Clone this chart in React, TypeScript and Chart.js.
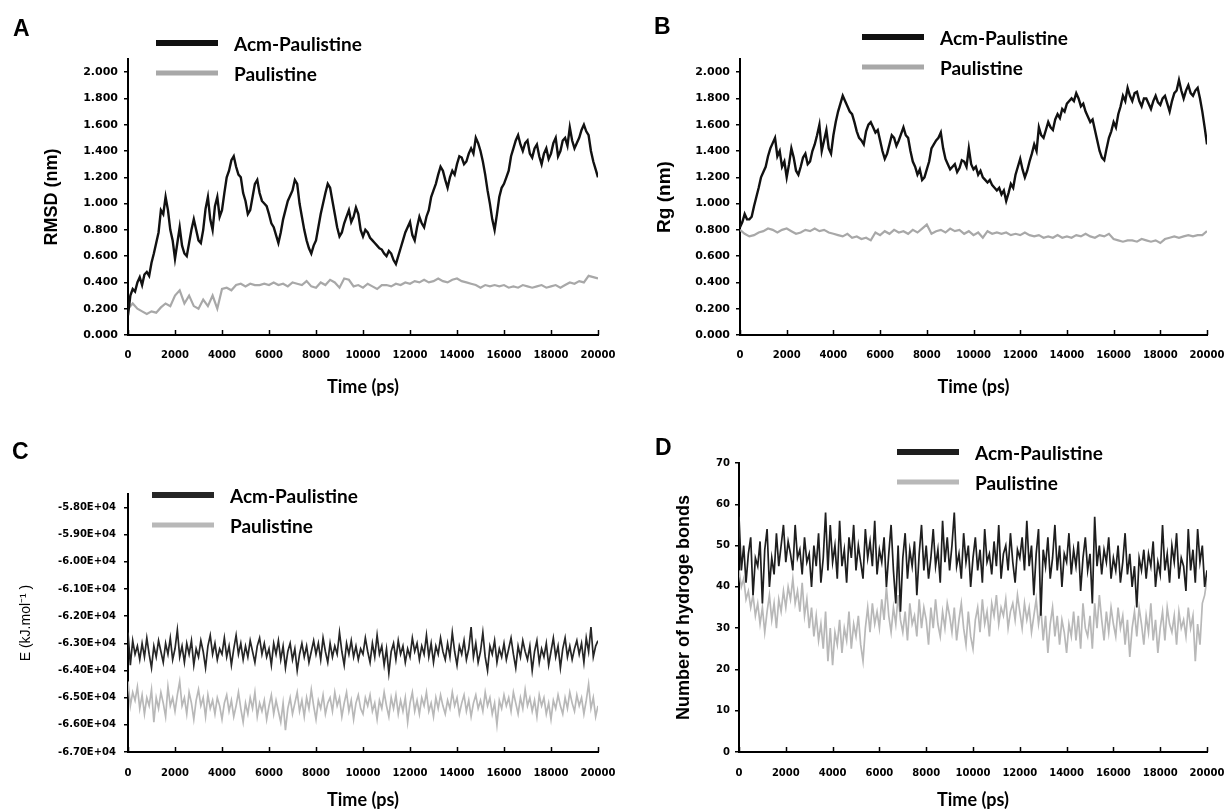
import React, { useEffect, useRef } from "react";
import { Chart, registerables } from "chart.js";

Chart.register(...registerables);

// ---------- data ----------
const SERIES_LABELS = ["Acm-Paulistine", "Paulistine"];
const STEP_100 = 100; // ps between samples
const STEP_200 = 200; // ps between samples
const X_TICKS = [0, 2000, 4000, 6000, 8000, 10000, 12000, 14000, 16000, 18000, 20000];

const NM_TICKS = [0, 0.2, 0.4, 0.6, 0.8, 1.0, 1.2, 1.4, 1.6, 1.8, 2.0];
const NM_TICK_LABELS = ["0.000", "0.200", "0.400", "0.600", "0.800", "1.000", "1.200", "1.400", "1.600", "1.800", "2.000"];
const ENERGY_TICKS = [-67000, -66000, -65000, -64000, -63000, -62000, -61000, -60000, -59000, -58000];
const ENERGY_TICK_LABELS = ["-6.70E+04", "-6.60E+04", "-6.50E+04", "-6.40E+04", "-6.30E+04", "-6.20E+04", "-6.10E+04", "-6.00E+04", "-5.90E+04", "-5.80E+04"];
const HBOND_TICKS = [0, 10, 20, 30, 40, 50, 60, 70];
const HBOND_TICK_LABELS = ["0", "10", "20", "30", "40", "50", "60", "70"];

// RMSD (nm), Acm-Paulistine, every 100 ps
const rmsdAcm = [
  0.15, 0.30, 0.35, 0.33, 0.40, 0.44, 0.38, 0.46, 0.48, 0.45,
  0.55, 0.62, 0.70, 0.78, 0.95, 0.92, 1.05, 0.95, 0.80, 0.72,
  0.58, 0.70, 0.82, 0.68, 0.62, 0.60, 0.70, 0.80, 0.88, 0.80,
  0.72, 0.70, 0.80, 0.96, 1.05, 0.88, 0.80, 0.98, 1.05, 0.90,
  0.95, 1.08, 1.20, 1.25, 1.33, 1.36, 1.28, 1.22, 1.20, 1.08,
  1.02, 0.92, 0.95, 1.05, 1.15, 1.18, 1.08, 1.02, 1.00, 0.98,
  0.92, 0.85, 0.82, 0.76, 0.70, 0.78, 0.88, 0.95, 1.02, 1.06,
  1.10, 1.18, 1.15, 1.00, 0.90, 0.80, 0.72, 0.66, 0.62, 0.68,
  0.72, 0.82, 0.92, 1.00, 1.08, 1.15, 1.12, 1.02, 0.92, 0.82,
  0.75, 0.78, 0.85, 0.90, 0.95, 0.86, 0.90, 0.97, 0.92, 0.80,
  0.75, 0.80, 0.78, 0.74, 0.72, 0.70, 0.68, 0.66, 0.65, 0.62,
  0.60, 0.64, 0.62, 0.57, 0.54, 0.60, 0.66, 0.72, 0.78, 0.82,
  0.86, 0.76, 0.72, 0.82, 0.90, 0.85, 0.82, 0.90, 0.95, 1.05,
  1.10, 1.15, 1.22, 1.28, 1.25, 1.18, 1.12, 1.20, 1.25, 1.22,
  1.30, 1.36, 1.35, 1.30, 1.32, 1.38, 1.42, 1.38, 1.50, 1.46,
  1.40, 1.32, 1.22, 1.10, 1.00, 0.88, 0.80, 0.92, 1.05, 1.12,
  1.15, 1.20, 1.25, 1.36, 1.42, 1.48, 1.52, 1.45, 1.40, 1.46,
  1.48, 1.38, 1.35, 1.42, 1.45, 1.36, 1.30, 1.38, 1.42, 1.34,
  1.38, 1.46, 1.50, 1.36, 1.40, 1.48, 1.50, 1.44, 1.58, 1.48,
  1.42, 1.46, 1.50, 1.56, 1.60, 1.55, 1.52, 1.40, 1.32, 1.26,
  1.20,
];
// RMSD (nm), Paulistine, every 200 ps
const rmsdPaul = [
  0.20, 0.24, 0.20, 0.18, 0.16, 0.18, 0.17, 0.21, 0.24, 0.22,
  0.30, 0.34, 0.24, 0.30, 0.22, 0.20, 0.27, 0.22, 0.30, 0.20,
  0.35, 0.36, 0.34, 0.38, 0.39, 0.37, 0.39, 0.38, 0.38, 0.39,
  0.38, 0.40, 0.38, 0.39, 0.37, 0.40, 0.39, 0.38, 0.41, 0.37,
  0.36, 0.40, 0.38, 0.42, 0.40, 0.36, 0.43, 0.42, 0.37, 0.38,
  0.36, 0.39, 0.37, 0.35, 0.38, 0.38, 0.37, 0.39, 0.38, 0.40,
  0.39, 0.41, 0.40, 0.42, 0.40, 0.41, 0.43, 0.41, 0.40, 0.42,
  0.43, 0.41, 0.40, 0.39, 0.38, 0.36, 0.38, 0.37, 0.38, 0.37,
  0.38, 0.36, 0.37, 0.36, 0.38, 0.37, 0.36, 0.37, 0.38, 0.36,
  0.37, 0.38, 0.36, 0.38, 0.40, 0.39, 0.41, 0.40, 0.45, 0.44,
  0.43,
];
// Rg (nm), Acm-Paulistine, every 100 ps
const rgAcm = [
  0.82, 0.86, 0.92, 0.88, 0.88, 0.90, 0.98, 1.05, 1.12, 1.20,
  1.24, 1.28, 1.36, 1.42, 1.46, 1.50, 1.36, 1.40, 1.28, 1.32,
  1.20, 1.30, 1.42, 1.35, 1.25, 1.22, 1.28, 1.35, 1.38, 1.30,
  1.32, 1.40, 1.45, 1.52, 1.60, 1.40, 1.48, 1.56, 1.42, 1.38,
  1.52, 1.62, 1.70, 1.76, 1.82, 1.78, 1.74, 1.70, 1.68, 1.62,
  1.55, 1.50, 1.48, 1.45, 1.55, 1.60, 1.62, 1.58, 1.54, 1.56,
  1.48, 1.40, 1.34, 1.38, 1.45, 1.52, 1.50, 1.44, 1.48, 1.53,
  1.58, 1.52, 1.50, 1.40, 1.32, 1.28, 1.22, 1.26, 1.18, 1.20,
  1.26, 1.32, 1.42, 1.45, 1.48, 1.50, 1.54, 1.42, 1.34, 1.30,
  1.26, 1.28, 1.30, 1.24, 1.27, 1.33, 1.32, 1.28, 1.42, 1.30,
  1.26, 1.28, 1.22, 1.25, 1.20, 1.18, 1.16, 1.18, 1.14, 1.12,
  1.10, 1.12, 1.07, 1.10, 1.02, 1.08, 1.15, 1.12, 1.22, 1.28,
  1.34, 1.26, 1.20, 1.25, 1.32, 1.38, 1.45, 1.40, 1.58, 1.52,
  1.50, 1.56, 1.62, 1.58, 1.56, 1.64, 1.68, 1.65, 1.72, 1.70,
  1.76, 1.78, 1.80, 1.78, 1.84, 1.80, 1.74, 1.76, 1.70, 1.66,
  1.62, 1.64, 1.56, 1.48, 1.40, 1.35, 1.33, 1.42, 1.50, 1.55,
  1.62, 1.58, 1.68, 1.74, 1.82, 1.78, 1.88, 1.82, 1.78, 1.84,
  1.85, 1.78, 1.74, 1.80, 1.80, 1.76, 1.72, 1.78, 1.82, 1.77,
  1.75, 1.80, 1.82, 1.76, 1.70, 1.78, 1.84, 1.86, 1.94, 1.86,
  1.80, 1.86, 1.90, 1.84, 1.82, 1.86, 1.88, 1.80, 1.70, 1.58,
  1.45,
];
// Rg (nm), Paulistine, every 200 ps
const rgPaul = [
  0.80, 0.77, 0.75, 0.76, 0.78, 0.79, 0.81, 0.80, 0.78, 0.80,
  0.81, 0.79, 0.77, 0.78, 0.80, 0.79, 0.81, 0.79, 0.80, 0.78,
  0.77, 0.76, 0.75, 0.77, 0.74, 0.75, 0.73, 0.74, 0.72, 0.78,
  0.76, 0.79, 0.77, 0.80, 0.78, 0.79, 0.77, 0.80, 0.78, 0.81,
  0.84, 0.77, 0.79, 0.80, 0.78, 0.81, 0.79, 0.80, 0.77, 0.79,
  0.76, 0.78, 0.74, 0.79, 0.77, 0.78, 0.77, 0.78, 0.76, 0.77,
  0.76, 0.78, 0.76, 0.75, 0.76, 0.74, 0.75, 0.74, 0.76, 0.74,
  0.75, 0.74, 0.76, 0.75, 0.77, 0.75, 0.74, 0.76, 0.75, 0.77,
  0.73, 0.72, 0.71, 0.72, 0.72, 0.71, 0.73, 0.72, 0.71, 0.72,
  0.70, 0.73, 0.74, 0.75, 0.74, 0.75, 0.76, 0.75, 0.76, 0.76,
  0.79,
];
// Energy (kJ/mol), every 100 ps
const energyAcm = [
  -62600, -63800, -62900, -63400, -63100, -63600, -63000, -63500, -62800, -63400,
  -63900, -63100, -63500, -62900, -63300, -63700, -63000, -63400, -62800, -63600,
  -63200, -62500, -63500, -63100, -63700, -63000, -63400, -62900, -63800, -63200,
  -63500, -62900, -63300, -63900, -63100, -62700, -63400, -63000, -63600, -63200,
  -63400, -62800, -63500, -63100, -63800, -63200, -62700, -63400, -63000, -63600,
  -63100, -63500, -62900, -63300, -63700, -63100, -62800, -63400, -63000, -63500,
  -63200, -63800, -63000, -63400, -62900, -63600, -63100, -63900, -63300, -63000,
  -63600, -63200, -64000, -63400, -63000, -63500, -63100, -63700, -63300, -62900,
  -63400, -63000, -63600, -62800, -63300, -63700, -63000, -63500, -63100, -63400,
  -62600, -63300, -63800, -63000, -63400, -62900, -63500, -63100, -63600, -63200,
  -63400, -62800, -63300, -63700, -63000, -63500, -62700, -63400, -63100, -63800,
  -63200, -64100, -63300, -63000, -63600, -62900, -63400, -63100, -63700, -63200,
  -63500, -62800, -63300, -63000, -63600, -63100, -63400, -62700, -63500, -63000,
  -63700, -63100, -63400, -62800, -63300, -63600, -63000, -63500, -62600, -63300,
  -63800, -63100, -63400, -62900, -63600, -63200, -62400, -63500, -63000, -63700,
  -63300, -62600, -63500, -64000, -63100, -63400, -62900, -63700, -63200, -63500,
  -63000, -63600, -63200, -62800, -63400, -63900, -63100, -63500, -62900, -63300,
  -63600, -63100, -64000, -63300, -62900, -63700, -63200, -63500, -63000, -63800,
  -63300, -62800, -63500, -63100, -63900, -63200, -62800, -63500, -63100, -63600,
  -63200, -62900, -63400, -63000, -63700, -62800, -63300, -62400, -63500, -63100,
  -62900,
];
const energyPaul = [
  -64400, -65300, -64800, -65100, -64600, -65400, -64900, -65600, -65000, -65300,
  -64700, -65900, -65000, -65400, -64800, -65200, -65700, -64600, -65300, -65000,
  -65500, -64900, -64400, -65300, -65000, -65600, -64800, -65200, -65800, -65100,
  -64700, -65300, -65000, -65700, -64900, -65400, -65100, -65600, -65000, -65300,
  -65800, -65200, -64900, -65500, -65100, -65700, -65300, -64800, -65400, -65900,
  -65200, -65600, -65000, -65400, -64800, -65700, -65200, -65500, -65100, -65800,
  -65300, -64900, -65600, -65100, -65500, -65900, -65200, -66200, -65400, -65000,
  -65600, -65200, -64800, -65500, -65100, -65700, -65000, -65400, -64700, -65300,
  -65800, -65100, -65400, -64900, -65600, -65200, -65000, -65500, -64800, -65300,
  -65000, -65700, -65200, -64800, -65500, -65100, -65800, -65200, -64900, -65400,
  -65600, -65000, -65300, -64900, -65500, -65200, -65800, -65100, -65400, -64800,
  -65300, -65700, -65000, -65400, -64900, -65600, -65100, -65500, -65000, -65900,
  -65200, -64800, -65500, -65100, -65600, -65000, -65300, -64800, -65500, -65200,
  -65700, -65000, -65400, -64900, -65300, -65600, -65100, -65400, -64800, -65300,
  -65000, -65600, -65200, -64900, -65500, -65100, -65700, -65200, -64900, -65400,
  -65100, -65500, -64800, -65300, -65000, -65600, -65200, -66000, -65100, -65400,
  -64900, -65300, -65000, -65500, -64800, -65200, -65600, -65000, -65400, -64700,
  -65300, -65000, -65500, -65100, -65700, -64900, -65300, -65000, -65600, -65200,
  -65800, -65100, -65400, -64900, -65300, -65600, -65000, -65400, -64800, -65200,
  -65500, -64900, -65300, -65000, -65600, -65100, -64500, -65400, -65000, -65700,
  -65300,
];
// Number of hydrogen bonds, every 100 ps
const hbondAcm = [
  57, 44, 50, 41, 48, 52, 38, 47, 45, 51,
  36, 49, 54, 40, 47, 43, 53, 45, 50, 55,
  46, 51, 48, 44, 55, 47, 49, 43, 52, 46,
  48, 40, 50, 45, 53, 41, 47, 58, 44, 55,
  46, 50, 42, 56, 45, 49, 41, 52, 47, 55,
  44, 50, 46, 42, 54, 47, 51, 45, 56, 43,
  49, 46, 52, 40, 48, 55, 44, 36, 50, 34,
  47, 53, 42, 49, 45, 51, 38, 48, 55, 44,
  50, 42, 47, 54, 45, 49, 41, 56, 46, 52,
  44, 50, 58, 45, 48, 42, 53, 46, 50, 40,
  47, 52, 44, 49, 41, 54, 46, 48, 43, 51,
  45, 55, 42, 48, 50, 44, 53, 46, 41, 49,
  47, 52, 44, 56, 45, 50, 38, 48, 54, 33,
  49, 45, 52, 42, 47, 55, 44, 50, 40, 48,
  46, 53, 43, 49, 45, 51, 39, 47, 52, 44,
  48, 36, 57, 45, 50, 43, 49, 46, 52, 42,
  47, 44, 50, 41, 46, 53, 43, 48, 40, 45,
  35, 47, 44, 49, 42, 48, 45, 51, 40, 46,
  43, 55, 44, 48, 41, 50, 46, 53, 42, 47,
  45, 39, 54, 44, 49, 41, 54, 46, 50, 40,
  44,
];
const hbondPaul = [
  44, 40, 42, 37, 39, 35, 38, 33, 36, 31,
  35, 29, 34, 38, 32, 36, 30, 37, 34, 39,
  35, 40, 37, 42, 36, 39, 34, 41, 33, 37,
  30, 35, 28, 33, 27, 31, 25, 34, 22, 30,
  21, 29, 26, 32, 24, 30, 27, 34, 25, 31,
  28, 33, 26, 22, 30, 35, 29, 36, 31, 34,
  30, 37, 32, 40, 33, 29, 35, 31, 38, 32,
  29, 34, 27, 36, 31, 33, 28, 37, 30, 35,
  32, 26, 35, 30, 37, 31, 28, 34, 30, 36,
  33, 29, 35, 27, 32, 36, 30, 26, 34, 28,
  25, 32, 35, 29, 37, 31, 34, 28, 36, 33,
  38, 31, 35, 33, 37, 30, 34, 36, 32, 38,
  34, 30, 36, 32, 35, 29, 33, 37, 31, 35,
  27, 33, 24, 31, 35, 28, 33, 26, 32, 29,
  24, 31, 28, 34, 27, 33, 25, 36, 30, 28,
  33, 25, 36, 30, 38, 32, 27, 34, 29, 35,
  31, 28, 35, 30, 33, 26, 32, 23, 30, 34,
  28, 35, 31, 26, 33, 29, 36, 27, 32, 24,
  30, 34, 27, 35, 31, 29, 33, 26, 34, 30,
  32, 28, 35, 30, 33, 22, 31, 26, 36, 38,
  42,
];

// ---------- panel layout ----------
type Panel = {
  key: string;
  left: number; top: number; width: number; height: number;
  area: { left: number; right: number; top: number; bottom: number };
  yMin: number; yMax: number; yTicks: number[]; yTickLabels: string[];
  yTickFontSize: number; yTickPad: number;
  yTitle: string; yTitleFont: any; yTitlePad: number;
  xTickPad: number; xTitlePadBottom: number;
  acm: number[]; acmStep: number; paul: number[]; paulStep: number;
  colors: [string, string]; widths: [number, number];
  letter: string; letterX: number; letterY: number;
  legendX: number; legendY: number;
};

const PANELS: Panel[] = [
  {
    key: "A", left: 0, top: 0, width: 630, height: 406,
    area: { left: 128, right: 598, top: 59, bottom: 335 },
    yMin: 0, yMax: 2.1, yTicks: NM_TICKS, yTickLabels: NM_TICK_LABELS,
    yTickFontSize: 11, yTickPad: 6,
    yTitle: "RMSD (nm)", yTitleFont: { family: "Liberation Sans", size: 18, weight: "bold" }, yTitlePad: 41,
    xTickPad: 14, xTitlePadBottom: 8,
    acm: rmsdAcm, acmStep: STEP_100, paul: rmsdPaul, paulStep: STEP_200,
    colors: ["#111111", "#a8a8a8"], widths: [2.4, 2.2],
    letter: "A", letterX: 13, letterY: 30, legendX: 156, legendY: 43,
  },
  {
    key: "B", left: 612, top: 0, width: 613, height: 406,
    area: { left: 128, right: 595, top: 59, bottom: 335 },
    yMin: 0, yMax: 2.1, yTicks: NM_TICKS, yTickLabels: NM_TICK_LABELS,
    yTickFontSize: 11, yTickPad: 6,
    yTitle: "Rg (nm)", yTitleFont: { family: "Liberation Sans", size: 19, weight: "bold" }, yTitlePad: 41,
    xTickPad: 14, xTitlePadBottom: 8,
    acm: rgAcm, acmStep: STEP_100, paul: rgPaul, paulStep: STEP_200,
    colors: ["#111111", "#a8a8a8"], widths: [2.4, 2.2],
    letter: "B", letterX: 42, letterY: 28, legendX: 250, legendY: 37,
  },
  {
    key: "C", left: 0, top: 406, width: 630, height: 406,
    area: { left: 128, right: 598, top: 88, bottom: 346 },
    yMin: -67000, yMax: -57500, yTicks: ENERGY_TICKS, yTickLabels: ENERGY_TICK_LABELS,
    yTickFontSize: 10, yTickPad: 8,
    yTitle: "E (kJ.mol\u207B\u00B9 )", yTitleFont: { family: "Liberation Sans", size: 14, weight: "normal" }, yTitlePad: 18,
    xTickPad: 15, xTitlePadBottom: 1,
    acm: energyAcm, acmStep: STEP_100, paul: energyPaul, paulStep: STEP_100,
    colors: ["#262626", "#b8b8b8"], widths: [1.7, 1.7],
    letter: "C", letterX: 12, letterY: 47, legendX: 152, legendY: 89,
  },
  {
    key: "D", left: 612, top: 406, width: 613, height: 406,
    area: { left: 127, right: 595, top: 57, bottom: 346 },
    yMin: 0, yMax: 70, yTicks: HBOND_TICKS, yTickLabels: HBOND_TICK_LABELS,
    yTickFontSize: 10, yTickPad: 5,
    yTitle: "Number of hydroge bonds", yTitleFont: { family: "Liberation Sans", size: 18, weight: "bold" }, yTitlePad: 61,
    xTickPad: 15, xTitlePadBottom: 1,
    acm: hbondAcm, acmStep: STEP_100, paul: hbondPaul, paulStep: STEP_100,
    colors: ["#1e1e1e", "#b8b8b8"], widths: [1.7, 1.7],
    letter: "D", letterX: 43, letterY: 43, legendX: 285, legendY: 46,
  },
];

// ---------- plugin: panel letter, legend, inward x ticks ----------
const decorPlugin = {
  id: "panelDecor",
  afterDraw(chart: any, _args: any, opts: any) {
    const ctx = chart.ctx as CanvasRenderingContext2D;
    const xs = chart.scales.x;
    const bottom = chart.chartArea.bottom;
    ctx.save();
    ctx.strokeStyle = "#000";
    ctx.lineWidth = 1.5;
    xs.ticks.forEach((t: any) => {
      const px = Math.round(xs.getPixelForValue(t.value)) + 0.5;
      ctx.beginPath();
      ctx.moveTo(px, bottom);
      ctx.lineTo(px, bottom - 5);
      ctx.stroke();
    });
    ctx.fillStyle = "#000";
    ctx.textAlign = "left";
    ctx.textBaseline = "middle";
    ctx.font = 'bold 23px "Liberation Sans", Arial, sans-serif';
    ctx.fillText(opts.letter, opts.letterX, opts.letterY);
    chart.data.datasets.forEach((ds: any, i: number) => {
      const y = opts.legendY + i * 30;
      ctx.strokeStyle = opts.legendColors[i];
      ctx.lineWidth = i === 0 ? 6 : 5;
      ctx.lineCap = "butt";
      ctx.beginPath();
      ctx.moveTo(opts.legendX, y);
      ctx.lineTo(opts.legendX + 62, y);
      ctx.stroke();
      ctx.fillStyle = "#000";
      ctx.font = 'bold 19px Lato, "Open Sans", sans-serif';
      ctx.fillText(ds.label, opts.legendX + 78, y + 2);
    });
    ctx.restore();
  },
};

function ChartPanel({ p }: { p: Panel }) {
  const ref = useRef<HTMLCanvasElement | null>(null);
  useEffect(() => {
    if (!ref.current) return;
    const tickFont = (size: number) => ({ family: "DejaVu Sans", size, weight: "bold" as const });
    const chart = new Chart(ref.current, {
      type: "line",
      data: {
        datasets: [
          {
            label: SERIES_LABELS[0],
            data: p.acm.map((v, i) => ({ x: i * p.acmStep, y: v })),
            borderColor: p.colors[0],
            borderWidth: p.widths[0],
            pointRadius: 0,
            tension: 0,
            fill: false,
          },
          {
            label: SERIES_LABELS[1],
            data: p.paul.map((v, i) => ({ x: i * p.paulStep, y: v })),
            borderColor: p.colors[1],
            borderWidth: p.widths[1],
            pointRadius: 0,
            tension: 0,
            fill: false,
          },
        ],
      },
      options: {
        responsive: false,
        animation: false,
        devicePixelRatio: 1,
        layout: { padding: { left: 0, top: p.area.top, right: p.width - p.area.right, bottom: 0 } },
        plugins: {
          legend: { display: false },
          tooltip: { enabled: false },
          panelDecor: {
            letter: p.letter, letterX: p.letterX, letterY: p.letterY,
            legendX: p.legendX, legendY: p.legendY, legendColors: p.colors,
          },
        } as any,
        scales: {
          x: {
            type: "linear",
            min: 0,
            max: 20000,
            border: { display: true, color: "#000", width: 2 },
            grid: { display: true, drawOnChartArea: false, drawTicks: false },
            ticks: {
              padding: p.xTickPad,
              color: "#000",
              font: tickFont(10),
              maxRotation: 0,
              autoSkip: false,
              callback: (v: any) => String(v),
            },
            title: {
              display: true,
              text: "Time (ps)",
              color: "#000",
              font: { family: "Lato", size: 18, weight: "bold" },
              padding: { top: 0, bottom: p.xTitlePadBottom },
            },
            afterBuildTicks: (s: any) => {
              s.ticks = X_TICKS.map((v) => ({ value: v }));
            },
            afterFit: (s: any) => {
              s.height = p.height - p.area.bottom;
              s.paddingLeft = 0;
              s.paddingRight = 0;
            },
          },
          y: {
            type: "linear",
            min: p.yMin,
            max: p.yMax,
            border: { display: true, color: "#000", width: 2 },
            grid: { display: true, drawOnChartArea: false, drawTicks: true, tickLength: 4, color: "#000", lineWidth: 1.5 },
            ticks: {
              padding: p.yTickPad,
              color: "#000",
              font: tickFont(p.yTickFontSize),
              autoSkip: false,
              callback: (v: any) => {
                const idx = p.yTicks.findIndex((t) => Math.abs(t - v) < 1e-6);
                return idx >= 0 ? p.yTickLabels[idx] : "";
              },
            },
            title: {
              display: true,
              text: p.yTitle,
              color: "#000",
              font: p.yTitleFont,
              padding: { top: p.yTitlePad, bottom: 0 },
            },
            afterBuildTicks: (s: any) => {
              s.ticks = p.yTicks.map((v) => ({ value: v }));
            },
            afterFit: (s: any) => {
              s.width = p.area.left;
              s.paddingTop = 0;
              s.paddingBottom = 0;
            },
          },
        },
      } as any,
      plugins: [decorPlugin],
    });
    return () => chart.destroy();
  }, [p]);
  return (
    <div style={{ position: "absolute", left: p.left, top: p.top, width: p.width, height: p.height }}>
      <canvas ref={ref} width={p.width} height={p.height} style={{ display: "block", width: p.width, height: p.height }} />
    </div>
  );
}

export default function App() {
  return (
    <div style={{ position: "fixed", left: 0, top: 0, width: 1225, height: 812, background: "#fff", overflow: "hidden" }}>
      {PANELS.map((p) => (
        <ChartPanel key={p.key} p={p} />
      ))}
    </div>
  );
}
